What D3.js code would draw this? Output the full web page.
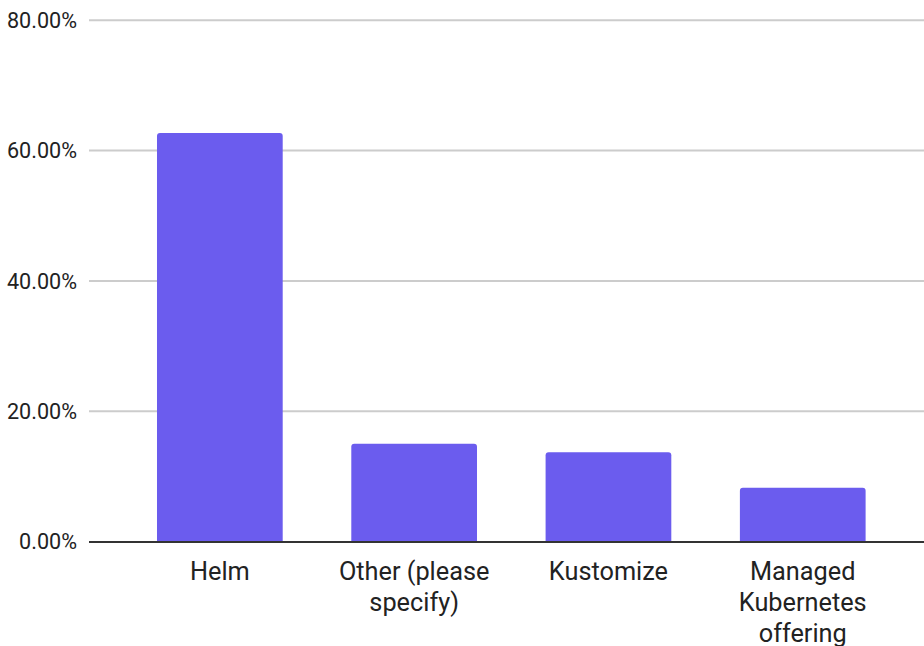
<!DOCTYPE html>
<html>
<head>
<meta charset="utf-8">
<script src="https://cdn.jsdelivr.net/npm/d3@7"></script>
<style>
  html, body { margin: 0; padding: 0; background: #fff; }
  svg { display: block; font-family: Roboto, "Noto Sans", sans-serif; }
</style>
</head>
<body>
<svg id="chart" width="924" height="646"></svg>
<script>
const categories = ["Helm", "Other (please specify)", "Kustomize", "Managed Kubernetes offering"];
const values = [62.7, 15.0, 13.7, 8.25];
const yTicks = [0, 20, 40, 60, 80];

const svg = d3.select("#chart");
const plotLeft = 89, plotRight = 924;

const x = d3.scaleBand()
  .domain(categories)
  .range([122.7, 899.9])
  .paddingInner(0.353)
  .paddingOuter(0.1765);

const y = d3.scaleLinear().domain([0, 80]).range([541.5, 20.3]);

// gridlines
svg.append("g").selectAll("line")
  .data(yTicks.filter(d => d !== 0))
  .join("line")
  .attr("x1", plotLeft).attr("x2", plotRight)
  .attr("y1", d => y(d)).attr("y2", d => y(d))
  .attr("stroke", "#cccccc").attr("stroke-width", 2);

// y tick labels
svg.append("g").selectAll("text")
  .data(yTicks)
  .join("text")
  .attr("x", 77).attr("y", d => y(d))
  .attr("dy", "0.36em")
  .attr("text-anchor", "end")
  .attr("font-size", 21.6)
  .attr("fill", "#222")
  .text(d => d3.format(".2f")(d) + "%");

// bars with slightly rounded top corners
const r = 3;
svg.append("g").selectAll("path")
  .data(categories.map((c, i) => ({ c, v: values[i] })))
  .join("path")
  .attr("fill", "#6b5cee")
  .attr("d", d => {
    const x0 = x(d.c), x1 = x0 + x.bandwidth();
    const y0 = y(d.v), yb = y(0);
    return `M${x0},${yb} L${x0},${y0 + r} Q${x0},${y0} ${x0 + r},${y0} L${x1 - r},${y0} Q${x1},${y0} ${x1},${y0 + r} L${x1},${yb} Z`;
  });

// baseline axis
svg.append("line")
  .attr("x1", plotLeft).attr("x2", plotRight)
  .attr("y1", y(0) + 0.5).attr("y2", y(0) + 0.5)
  .attr("stroke", "#333").attr("stroke-width", 2);

// category labels with wrapping
const labelG = svg.append("g");
const maxW = 180;
categories.forEach(c => {
  const cx = x(c) + x.bandwidth() / 2;
  const t = labelG.append("text")
    .attr("x", cx)
    .attr("y", 580)
    .attr("text-anchor", "middle")
    .attr("font-size", 25.3)
    .attr("fill", "#222");
  const words = c.split(" ");
  let line = [];
  let tspan = t.append("tspan").attr("x", cx).attr("dy", 0);
  words.forEach(w => {
    line.push(w);
    tspan.text(line.join(" "));
    if (tspan.node().getComputedTextLength() > maxW && line.length > 1) {
      line.pop();
      tspan.text(line.join(" "));
      line = [w];
      tspan = t.append("tspan").attr("x", cx).attr("dy", 31).text(w);
    }
  });
});
</script>
</body>
</html>
